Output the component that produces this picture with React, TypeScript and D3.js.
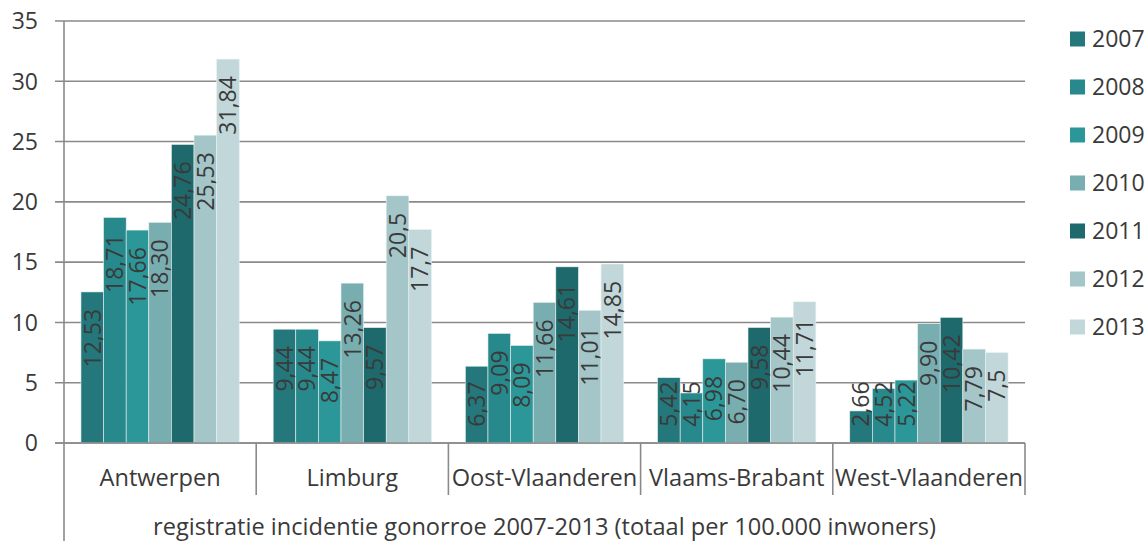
import React from "react";
import * as d3 from "d3";

const categories = ["Antwerpen", "Limburg", "Oost-Vlaanderen", "Vlaams-Brabant", "West-Vlaanderen"];
const years = ["2007", "2008", "2009", "2010", "2011", "2012", "2013"];
const v2007 = [12.53, 9.44, 6.37, 5.42, 2.66];
const v2008 = [18.71, 9.44, 9.09, 4.15, 4.52];
const v2009 = [17.66, 8.47, 8.09, 6.98, 5.22];
const v2010 = [18.30, 13.26, 11.66, 6.70, 9.90];
const v2011 = [24.76, 9.57, 14.61, 9.58, 10.42];
const v2012 = [25.53, 20.5, 11.01, 10.44, 7.79];
const v2013 = [31.84, 17.7, 14.85, 11.71, 7.5];
const labels2007 = ["12,53", "9,44", "6,37", "5,42", "2,66"];
const labels2008 = ["18,71", "9,44", "9,09", "4,15", "4,52"];
const labels2009 = ["17,66", "8,47", "8,09", "6,98", "5,22"];
const labels2010 = ["18,30", "13,26", "11,66", "6,70", "9,90"];
const labels2011 = ["24,76", "9,57", "14,61", "9,58", "10,42"];
const labels2012 = ["25,53", "20,5", "11,01", "10,44", "7,79"];
const labels2013 = ["31,84", "17,7", "14,85", "11,71", "7,5"];
const yTicks = [0, 5, 10, 15, 20, 25, 30, 35];
const axisTitle = "registratie incidentie gonorroe 2007-2013 (totaal per 100.000 inwoners)";

const seriesValues = [v2007, v2008, v2009, v2010, v2011, v2012, v2013];
const seriesLabels = [labels2007, labels2008, labels2009, labels2010, labels2011, labels2012, labels2013];
const colors = ["#24787b", "#27898b", "#2b9799", "#79aeb1", "#1d696c", "#a4c6c8", "#c2d7d9"];

const FONT = "'Open Sans', sans-serif";
const FS = 23;
const FS_CAT = 23.6;
const TXT = "#3a3a3a";

function textLen(s: string, fs: number) {
  let w = 0;
  for (const c of s) w += c === "," ? 0.269 : 0.572;
  return w * fs;
}

export default function App() {
  const W = 1148, H = 541;
  const left = 64, right = 1025;
  const y = d3.scaleLinear().domain([0, 35]).range([443, 21]);
  const x0 = d3.scaleBand<string>().domain(categories).range([left, right]).padding(0);
  const x1 = d3.scaleBand<string>().domain(years).range([0, x0.bandwidth()]).paddingInner(0).paddingOuter(0.75);
  const base = y(0);

  return (
    <svg width={W} height={H} style={{ position: "absolute", left: 0, top: 0, background: "#fff" }} fontFamily={FONT}>
      {yTicks.map((t) => (
        <g key={t}>
          <line x1={55} x2={right} y1={y(t)} y2={y(t)} stroke="#8a8a8a" strokeWidth={1.6} />
          <text x={38} y={y(t)} dy="0.36em" textAnchor="end" fontSize={FS} fill={TXT}>{t}</text>
        </g>
      ))}
      {categories.map((c, ci) => (
        <g key={c} transform={`translate(${x0(c)},0)`}>
          {years.map((yr, si) => {
            const v = seriesValues[si][ci];
            const bx = x1(yr)!;
            const bw = x1.bandwidth();
            const top = y(v);
            const lab = seriesLabels[si][ci];
            const len = textLen(lab, FS);
            const ty = Math.min(top + 17, base - 16 - len);
            const cx = bx + bw / 2;
            return (
              <g key={yr}>
                <rect x={bx} y={top} width={bw} height={base - top} fill={colors[si]} stroke="#e8f0f0" strokeWidth={0.6} />
                <text transform={`translate(${cx},${ty}) rotate(-90)`} textAnchor="end" dy="0.36em" fontSize={FS} fill={TXT}>{lab}</text>
              </g>
            );
          })}
        </g>
      ))}
      <line x1={55} x2={right} y1={base} y2={base} stroke="#8a8a8a" strokeWidth={1.6} />
      <line x1={left} x2={left} y1={21} y2={H} stroke="#8a8a8a" strokeWidth={1.6} />
      {categories.map((c) => (
        <line key={c} x1={x0(c)! + x0.bandwidth()} x2={x0(c)! + x0.bandwidth()} y1={base} y2={495} stroke="#8a8a8a" strokeWidth={1.6} />
      ))}
      {categories.map((c) => (
        <text key={c} x={x0(c)! + x0.bandwidth() / 2} y={478} dy="0.36em" textAnchor="middle" fontSize={FS_CAT} fill={TXT}>{c}</text>
      ))}
      <text x={(left + right) / 2} y={527} dy="0.36em" textAnchor="middle" fontSize={FS_CAT} fill={TXT}>{axisTitle}</text>
      {years.map((yr, i) => (
        <g key={yr}>
          <rect x={1070} y={39 + 48 * i - 7.5} width={15} height={15} fill={colors[i]} />
          <text x={1092} y={39 + 48 * i} dy="0.36em" fontSize={FS} fill={TXT}>{yr}</text>
        </g>
      ))}
    </svg>
  );
}
